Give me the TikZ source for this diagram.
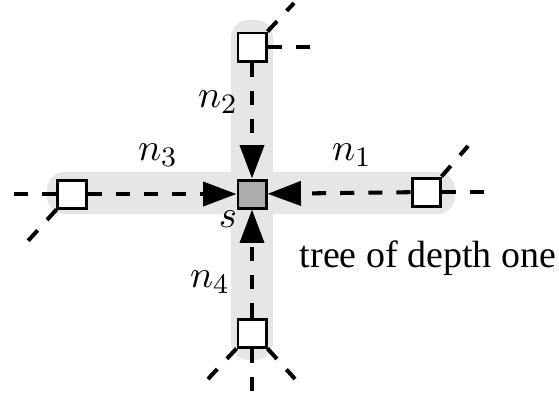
\documentclass[tikz,border=0pt]{standalone}
\usepackage{fontspec}
\setmainfont{Liberation Serif}
\usetikzlibrary{arrows.meta, positioning, calc}
\definecolor{bandgray}{RGB}{230, 230, 230}
\definecolor{rootgray}{RGB}{172, 172, 172}

\begin{document}
\begin{tikzpicture}[x=0.01cm, y=-0.01cm,
  font=\fontsize{10.8}{13}\selectfont,
  vertex/.style={draw, line width=0.85pt, fill=white, minimum size=0.28cm, inner sep=0pt},
  link/.style={line width=1.15pt, dash pattern=on 4pt off 4pt},
  feed/.style={link, -{Triangle[length=9.5pt, width=6.8pt]}},
  band/.style={fill=bandgray, rounded corners=5pt}]
  \useasboundingbox (0,0) rectangle (559,396);

  % shaded branches
  \fill[band] (231,20) rectangle (273,360);
  \fill[band] (47,172) rectangle (455,214);

  % root and its neighbours
  \node[vertex, fill=rootgray] (root) at (252,194) {};
  \node[vertex] (nb1) at (426,192) {};
  \node[vertex] (nb2) at (252,47) {};
  \node[vertex] (nb3) at (72,194) {};
  \node[vertex] (nb4) at (252,333) {};

  % messages towards the root
  \draw[feed] (nb1) -- (root);
  \draw[feed] (nb2) -- (root);
  \draw[feed] (nb3) -- (root);
  \draw[feed] (nb4) -- (root);

  % rest of the tree
  \coordinate (e1a) at (488,192);
  \coordinate (e1b) at (468,146);
  \coordinate (e2a) at (312,47);
  \coordinate (e2b) at (294,3);
  \coordinate (e3a) at (9,194);
  \coordinate (e3b) at (27,242);
  \coordinate (e4a) at (252,393);
  \coordinate (e4b) at (208,379);
  \coordinate (e4c) at (295,379);
  \draw[link] (nb1.east) -- (e1a);
  \draw[link] (nb1.north east) -- (e1b);
  \draw[link] (nb2.east) -- (e2a);
  \draw[link] (nb2.north east) -- (e2b);
  \draw[link] (nb3.west) -- (e3a);
  \draw[link] (nb3.south west) -- (e3b);
  \draw[link] (nb4.south) -- (e4a);
  \draw[link] (nb4.south west) -- (e4b);
  \draw[link] (nb4.south east) -- (e4c);

  % labels
  \node (lab1) at (352,155) {$n_1$};
  \node (lab2) at (218,102) {$n_2$};
  \node (lab3) at (158,155) {$n_3$};
  \node (lab4) at (210,282) {$n_4$};
  \node (labs) at (228,219) {$s$};
  \node (caption) at (428,258) {tree of depth one};
\end{tikzpicture}
\end{document}
